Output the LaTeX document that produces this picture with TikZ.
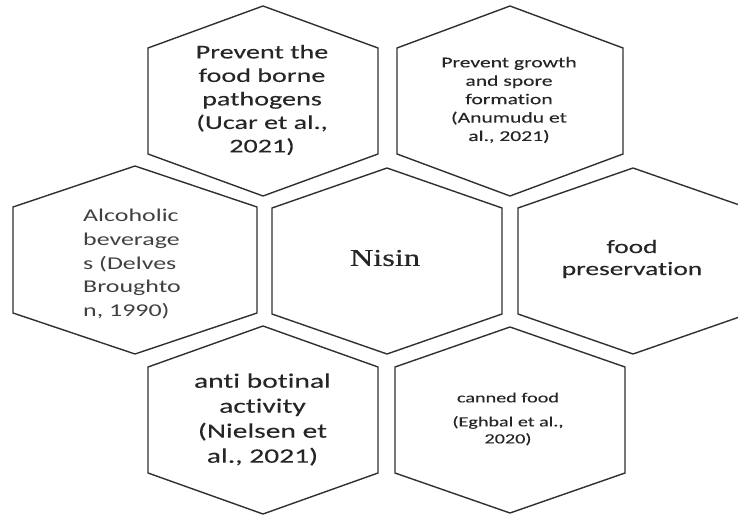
\documentclass[tikz,border=0pt]{standalone}
\usepackage{fontspec}
\setmainfont{Carlito}[FakeStretch=1.44,Ligatures={NoCommon},FakeBold=0.15]
\newfontfamily\lightfont{Carlito}[FakeStretch=1.44,Ligatures={NoCommon}]
\newfontfamily\nisfont{Liberation Serif}[FakeStretch=1.35,FakeBold=0.6]
\definecolor{edge}{HTML}{303030}
\definecolor{txt}{HTML}{262626}
\definecolor{txtlight}{HTML}{404040}
\newcommand{\hexpath}[4]{% cx cy hw hh
  \draw[hexline] (#1-#3,#2-53) -- (#1,#2-#4) -- (#1+#3,#2-53) -- (#1+#3,#2+53) -- (#1,#2+#4) -- (#1-#3,#2+53) -- cycle;}
\begin{document}
\begin{tikzpicture}[x=1pt,y=-1pt,
  hexline/.style={draw=edge,line width=1.4pt,line join=miter},
  label/.style={inner sep=0pt,align=center,text=txt}]
\useasboundingbox (0,0) rectangle (738,516);
\clip (0,0) rectangle (738,516);
\hexpath{263}{101}{115}{95}
\hexpath{510}{101}{113}{95}
\hexpath{135}{260}{122}{94}
\hexpath{387}{261}{115}{93}
\hexpath{633}{261}{115}{93}
\hexpath{263}{420}{115}{94}
\hexpath{510}{420}{115}{93}
\node[label,font=\fontsize{19.5}{23.5}\selectfont] (t1) at (262,100)
  {Prevent the\\food borne\\pathogens\\(Ucar et al.,\\2021)};
\node[label,font=\fontsize{15}{18.4}\selectfont] (t2) at (509,100)
  {Prevent growth\\and spore\\formation\\(Anumudu et\\al., 2021)};
\node[label,align=left,anchor=west,text=txtlight,font=\lightfont\fontsize{18}{23.7}\selectfont] (t3) at (83,264)
  {Alcoholic\\beverage\\s (Delves\\Broughto\\n, 1990)};
\node[label,font=\nisfont\fontsize{24}{28}\selectfont] (t4) at (385,258) {Nisin};
\node[label,font=\fontsize{19}{22}\selectfont] (t5) at (632,259)
  {food\\preservation};
\node[label,font=\fontsize{20.5}{25}\selectfont] (t6) at (262.5,419.5)
  {anti botinal\\activity\\(Nielsen et\\al., 2021)};
\node[label,font=\fontsize{14}{17}\selectfont] (t7) at (508,419)
  {canned food\\[7pt](Eghbal et al.,\\2020)};
\end{tikzpicture}
\end{document}
